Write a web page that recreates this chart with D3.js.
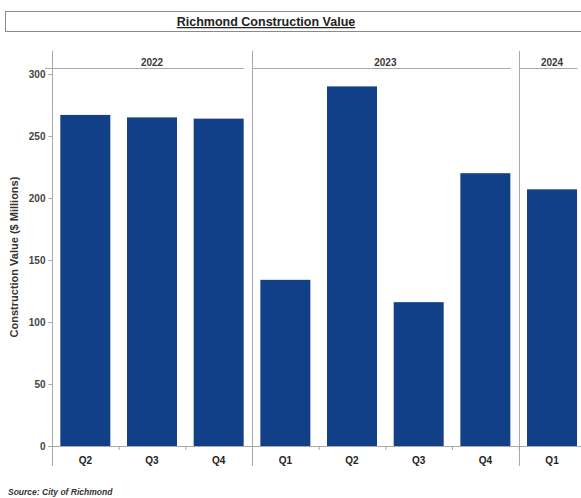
<!DOCTYPE html>
<html>
<head>
<meta charset="utf-8">
<script src="https://cdn.jsdelivr.net/npm/d3@7"></script>
<style>
  html, body { margin: 0; padding: 0; background: #fff; }
  svg { display: block; }
  text { font-family: "Liberation Sans", Arial, sans-serif; }
</style>
</head>
<body>
<svg id="chart" width="581" height="498"></svg>
<script>
// Quarterly construction value, City of Richmond ($ millions)
const years    = ["2022", "2022", "2022", "2023", "2023", "2023", "2023", "2024"];
const quarters = ["Q2", "Q3", "Q4", "Q1", "Q2", "Q3", "Q4", "Q1"];
const values   = [267, 265, 264, 134, 290, 116, 220, 207];
const yTicks   = [0, 50, 100, 150, 200, 250, 300];
const yearGroups = ["2022", "2023", "2024"];

const rows = quarters.map((q, i) => ({ key: years[i] + " " + q, year: years[i], q, v: values[i] }));

const svg = d3.select("#chart");
const W = 581, H = 498;
const left = 52, bandW = 66.67;
const x = d3.scaleBand()
  .domain(rows.map(d => d.key))
  .range([left, left + bandW * rows.length])
  .paddingInner(0.25)
  .paddingOuter(0.125);
const y = d3.scaleLinear().domain([0, 300]).range([446, 74]);

const gridCol = "#a9a9a9";
const barCol = "#113f88";

// Title box
svg.append("rect")
  .attr("x", 5.5).attr("y", 11.5).attr("width", 590).attr("height", 20)
  .attr("fill", "#fff").attr("stroke", "#8a8a8a").attr("stroke-width", 1);
svg.append("text")
  .attr("x", 266).attr("y", 26)
  .attr("text-anchor", "middle")
  .attr("font-size", 12.5).attr("font-weight", "bold")
  .attr("fill", "#222")
  .attr("text-decoration", "underline")
  .text("Richmond Construction Value");

// Year groups: start/end of each group along the band axis
const groupExtent = yearGroups.map(yr => {
  const n = rows.filter(d => d.year === yr).length;
  const start = left + rows.findIndex(d => d.year === yr) * x.step();
  return { yr, start, end: start + n * x.step() };
});

const header = svg.append("g");
groupExtent.forEach((g, i) => {
  header.append("line")
    .attr("x1", i === 0 ? g.start - 7 : g.start + 1)
    .attr("x2", Math.min(g.end - 8, W))
    .attr("y1", 68.5).attr("y2", 68.5)
    .attr("stroke", gridCol).attr("stroke-width", 1);
  header.append("text")
    .attr("x", (g.start + g.end) / 2)
    .attr("y", 66)
    .attr("text-anchor", "middle")
    .attr("font-size", 10).attr("font-weight", "bold")
    .attr("fill", "#3a3a3a")
    .text(g.yr);
  header.append("line")
    .attr("x1", Math.round(g.start) + 0.5).attr("x2", Math.round(g.start) + 0.5)
    .attr("y1", 51).attr("y2", 466)
    .attr("stroke", gridCol).attr("stroke-width", 1);
});

// Bars
svg.append("g").selectAll("rect")
  .data(rows)
  .join("rect")
  .attr("x", d => x(d.key))
  .attr("y", d => y(d.v))
  .attr("width", x.bandwidth())
  .attr("height", d => y(0) - y(d.v))
  .attr("fill", barCol);

// Y axis
const yAxis = svg.append("g")
  .attr("transform", `translate(${left + 0.5},0)`)
  .call(d3.axisLeft(y).tickValues(yTicks).tickSize(4).tickPadding(3));
yAxis.select(".domain").remove();
yAxis.selectAll(".tick line").attr("stroke", gridCol);
yAxis.selectAll(".tick text")
  .attr("font-family", "'Liberation Sans', Arial, sans-serif")
  .attr("font-size", 10).attr("font-weight", "bold").attr("fill", "#444");

// X axis baseline and quarter labels
svg.append("line")
  .attr("x1", left - 4).attr("x2", W)
  .attr("y1", y(0) + 0.5).attr("y2", y(0) + 0.5)
  .attr("stroke", gridCol);
const xAxis = svg.append("g")
  .attr("transform", `translate(0,${y(0)})`)
  .call(d3.axisBottom(x).tickSize(0).tickPadding(11).tickFormat(k => k.split(" ")[1]));
xAxis.select(".domain").remove();
xAxis.selectAll(".tick text")
  .attr("font-family", "'Liberation Sans', Arial, sans-serif")
  .attr("font-size", 10).attr("font-weight", "bold").attr("fill", "#222");
// small tick marks between quarters
svg.append("g").selectAll("line")
  .data(rows.slice(1))
  .join("line")
  .attr("x1", (d, i) => left + (i + 1) * x.step() + 0.5)
  .attr("x2", (d, i) => left + (i + 1) * x.step() + 0.5)
  .attr("y1", y(0)).attr("y2", y(0) + 4)
  .attr("stroke", gridCol);

// Y axis title
svg.append("text")
  .attr("transform", "translate(18,257) rotate(-90)")
  .attr("text-anchor", "middle")
  .attr("font-size", 11).attr("font-weight", "bold")
  .attr("fill", "#333")
  .text("Construction Value ($ Millions)");

// Source note
svg.append("text")
  .attr("x", 8).attr("y", 495)
  .attr("font-size", 8.5).attr("font-style", "italic").attr("font-weight", "bold")
  .attr("fill", "#333")
  .text("Source: City of Richmond");
</script>
</body>
</html>
